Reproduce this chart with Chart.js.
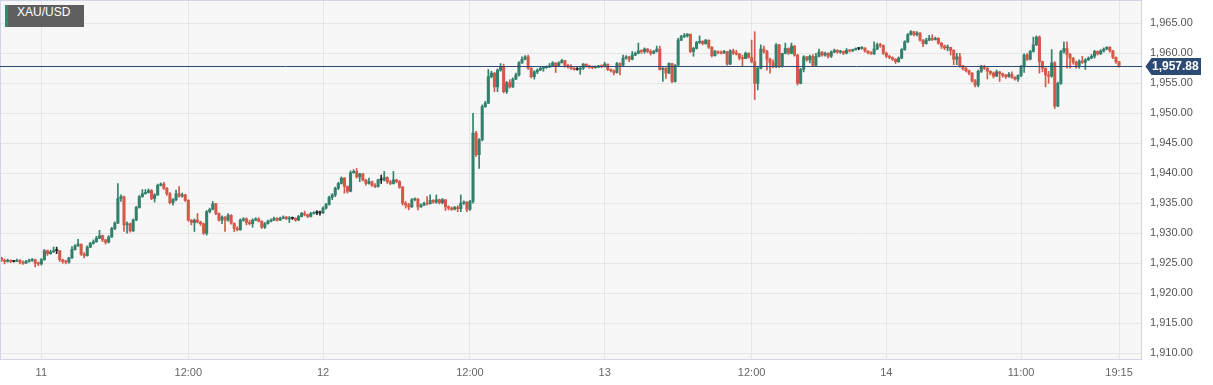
<!DOCTYPE html>
<html>
<head>
<meta charset="utf-8">
<title>XAU/USD</title>
<script src="https://cdn.jsdelivr.net/npm/chart.js@4.4.1/dist/chart.umd.min.js"></script>
<style>
  html, body { margin: 0; padding: 0; background: #fff; }
  #wrap { position: relative; width: 1213px; height: 385px; }
  #symbol {
    position: absolute; left: 5px; top: 5px; height: 22px; line-height: 22px;
    width: 67px; padding-left: 9px; background: #5f5f5f; border-left: 3px solid #2f8a6e;
    color: #fff; font: 12px "Liberation Sans", Arial, sans-serif;
  }
</style>
</head>
<body>
<div id="wrap">
  <canvas id="chart"></canvas>
  <div id="symbol">XAU/USD</div>
</div>
<script>
// 15 minute candles, open = previous close
const firstOpen = 1925.9;

const closes = [
  1925.5, 1925.3, 1925.5, 1925.3, 1925.3, 1925.5, 1925.2, 1925.0, 1925.3, 1925.5,
  1925.6, 1925.0, 1924.9, 1925.6, 1927.1, 1926.6, 1926.9, 1927.1, 1927.1, 1925.6,
  1925.3, 1925.2, 1925.9, 1927.3, 1927.9, 1928.2, 1926.5, 1926.3, 1927.7, 1928.3,
  1928.6, 1929.2, 1929.6, 1928.9, 1928.5, 1929.4, 1930.8, 1931.7, 1935.8, 1936.1,
  1931.4, 1931.6, 1930.4, 1932.2, 1934.3, 1936.1, 1936.6, 1936.8, 1937.1, 1935.8,
  1936.4, 1938.0, 1938.2, 1937.5, 1936.6, 1935.1, 1935.6, 1936.6, 1936.2, 1936.4,
  1935.5, 1932.2, 1931.8, 1932.2, 1931.9, 1931.6, 1930.0, 1933.6, 1934.0, 1934.9,
  1933.3, 1932.2, 1932.7, 1932.2, 1933.0, 1931.7, 1930.8, 1930.6, 1932.2, 1932.4,
  1931.8, 1931.6, 1932.2, 1932.4, 1932.0, 1931.0, 1931.6, 1932.0, 1932.2, 1932.5,
  1932.2, 1932.5, 1932.7, 1932.4, 1932.5, 1932.5, 1932.2, 1932.8, 1933.3, 1933.1,
  1932.8, 1933.3, 1933.4, 1933.4, 1933.4, 1934.2, 1934.8, 1936.0, 1936.4, 1937.5,
  1938.3, 1939.2, 1937.8, 1937.0, 1940.1, 1940.3, 1939.4, 1939.9, 1938.9, 1938.3,
  1938.6, 1938.0, 1937.8, 1938.9, 1938.9, 1939.3, 1938.6, 1938.3, 1938.9, 1938.6,
  1937.7, 1935.0, 1934.7, 1934.4, 1935.6, 1935.7, 1934.4, 1934.7, 1935.0, 1934.9,
  1935.5, 1935.2, 1935.6, 1935.1, 1935.6, 1934.4, 1934.2, 1934.0, 1934.3, 1934.1,
  1935.0, 1935.2, 1934.0, 1935.3, 1946.7, 1943.1, 1945.6, 1951.1, 1951.7, 1956.1,
  1956.7, 1954.4, 1957.2, 1957.8, 1953.6, 1955.1, 1954.4, 1955.7, 1956.4, 1958.4,
  1959.0, 1959.4, 1957.5, 1956.1, 1956.9, 1957.2, 1957.5, 1957.6, 1957.7, 1957.9,
  1958.4, 1957.9, 1958.4, 1958.8, 1957.9, 1957.8, 1957.5, 1957.3, 1957.3, 1957.5,
  1958.2, 1957.9, 1957.7, 1957.6, 1957.7, 1957.9, 1957.8, 1958.2, 1957.3, 1957.1,
  1956.8, 1958.3, 1958.0, 1959.2, 1959.4, 1959.0, 1959.7, 1960.0, 1960.4, 1960.3,
  1960.7, 1960.3, 1960.0, 1960.3, 1960.7, 1957.3, 1957.5, 1956.7, 1958.3, 1955.3,
  1958.0, 1962.2, 1962.8, 1962.9, 1963.2, 1960.3, 1960.8, 1961.8, 1962.0, 1961.6,
  1962.2, 1961.0, 1959.6, 1960.3, 1960.1, 1960.0, 1960.3, 1958.2, 1960.4, 1960.0,
  1959.9, 1959.2, 1959.1, 1960.0, 1959.3, 1958.6, 1955.0, 1957.5, 1960.7, 1960.3,
  1959.0, 1958.4, 1957.8, 1961.4, 1957.8, 1960.0, 1960.8, 1960.0, 1961.2, 1959.7,
  1955.0, 1957.3, 1959.4, 1958.9, 1959.5, 1958.0, 1959.5, 1960.2, 1959.7, 1960.0,
  1959.5, 1960.2, 1960.5, 1960.2, 1960.3, 1960.0, 1960.5, 1960.4, 1960.6, 1960.8,
  1960.8, 1960.9, 1960.4, 1960.1, 1959.9, 1960.7, 1961.4, 1961.3, 1960.0, 1959.5,
  1959.3, 1959.0, 1958.6, 1959.2, 1960.6, 1961.9, 1963.1, 1963.6, 1963.1, 1963.4,
  1962.2, 1961.6, 1962.2, 1962.5, 1962.3, 1962.5, 1961.7, 1961.2, 1960.9, 1961.0,
  1960.5, 1959.0, 1959.4, 1957.9, 1957.5, 1957.1, 1956.7, 1955.4, 1954.7, 1957.0,
  1957.8, 1957.5, 1957.0, 1956.7, 1956.2, 1956.9, 1956.6, 1956.3, 1956.1, 1956.5,
  1956.0, 1955.7, 1956.3, 1957.8, 1959.7, 1959.0, 1960.3, 1961.4, 1962.7, 1958.6,
  1957.5, 1956.4, 1956.2, 1958.4, 1951.2, 1955.0, 1960.3, 1960.8, 1959.8, 1959.2,
  1958.5, 1958.0, 1958.7, 1958.5, 1958.9, 1959.2, 1959.5, 1960.3, 1959.9, 1960.4,
  1960.7, 1961.0, 1960.4, 1959.3, 1958.6, 1957.88
];

const highs = [
  1926.0, 1925.7, 1925.7, 1925.6, 1925.5, 1925.7, 1925.6, 1925.4, 1925.5, 1925.7,
  1925.8, 1925.7, 1925.2, 1925.8, 1927.3, 1927.2, 1927.2, 1927.7, 1927.7, 1927.1,
  1925.7, 1925.5, 1926.0, 1927.8, 1928.1, 1929.0, 1928.2, 1926.8, 1927.9, 1928.5,
  1928.9, 1929.5, 1930.5, 1929.7, 1929.0, 1929.6, 1931.0, 1931.9, 1938.3, 1936.4,
  1936.2, 1931.9, 1931.7, 1932.4, 1934.5, 1936.3, 1937.3, 1937.3, 1937.4, 1937.3,
  1936.6, 1938.2, 1938.4, 1938.5, 1937.6, 1936.8, 1935.8, 1937.2, 1937.8, 1936.7,
  1936.5, 1935.6, 1932.3, 1932.4, 1933.3, 1932.0, 1931.7, 1933.8, 1934.2, 1935.3,
  1935.0, 1933.4, 1932.9, 1932.8, 1933.3, 1933.1, 1931.7, 1931.1, 1932.4, 1932.6,
  1932.6, 1932.2, 1932.4, 1932.6, 1932.6, 1932.1, 1931.8, 1932.2, 1932.4, 1932.7,
  1932.6, 1932.7, 1932.9, 1932.8, 1932.8, 1932.7, 1932.6, 1933.0, 1933.5, 1933.7,
  1933.2, 1933.5, 1933.6, 1933.8, 1933.7, 1934.4, 1935.0, 1936.2, 1936.6, 1937.7,
  1938.5, 1939.4, 1939.3, 1937.9, 1940.4, 1940.6, 1940.8, 1940.0, 1940.0, 1939.0,
  1939.2, 1938.7, 1938.3, 1939.0, 1939.7, 1940.3, 1939.4, 1938.8, 1940.3, 1939.0,
  1938.8, 1937.8, 1935.3, 1935.0, 1935.8, 1935.9, 1935.8, 1934.9, 1935.2, 1936.1,
  1936.4, 1935.6, 1936.4, 1935.7, 1935.8, 1935.1, 1934.6, 1934.4, 1934.5, 1934.6,
  1936.4, 1935.4, 1935.3, 1935.5, 1950.0, 1947.0, 1945.8, 1951.4, 1952.0, 1957.3,
  1957.0, 1956.8, 1957.4, 1958.3, 1958.2, 1955.3, 1955.6, 1955.9, 1956.7, 1958.6,
  1959.4, 1959.6, 1959.7, 1957.6, 1957.1, 1957.4, 1957.7, 1957.8, 1957.9, 1958.3,
  1958.6, 1958.4, 1958.6, 1959.0, 1958.8, 1958.2, 1958.1, 1957.6, 1957.6, 1957.7,
  1958.3, 1958.2, 1958.0, 1957.9, 1957.9, 1958.0, 1958.1, 1958.5, 1958.2, 1957.4,
  1957.2, 1958.5, 1958.4, 1959.7, 1959.6, 1959.5, 1960.3, 1960.2, 1961.7, 1960.6,
  1960.9, 1960.8, 1960.6, 1960.5, 1961.2, 1961.2, 1957.6, 1957.6, 1958.4, 1958.3,
  1958.1, 1962.5, 1963.0, 1963.3, 1963.3, 1963.0, 1961.0, 1962.0, 1962.9, 1962.1,
  1962.3, 1962.1, 1961.1, 1960.5, 1960.4, 1960.4, 1960.5, 1960.3, 1960.6, 1960.7,
  1960.5, 1960.0, 1959.7, 1960.2, 1960.1, 1962.2, 1963.6, 1957.7, 1961.4, 1961.2,
  1960.5, 1959.2, 1958.9, 1961.6, 1961.5, 1960.0, 1961.7, 1960.9, 1961.7, 1961.3,
  1959.8, 1957.5, 1959.6, 1959.5, 1959.7, 1959.8, 1960.0, 1960.7, 1960.3, 1960.2,
  1960.1, 1960.4, 1960.7, 1960.6, 1960.5, 1960.4, 1960.8, 1960.6, 1960.7, 1960.9,
  1960.9, 1961.1, 1960.9, 1960.4, 1960.3, 1961.9, 1961.7, 1961.7, 1961.4, 1960.2,
  1959.7, 1959.4, 1959.1, 1959.4, 1960.8, 1962.1, 1963.3, 1963.8, 1963.5, 1963.6,
  1963.4, 1962.3, 1962.5, 1963.0, 1963.1, 1962.7, 1962.6, 1961.8, 1961.4, 1961.4,
  1961.0, 1960.6, 1960.0, 1960.0, 1958.0, 1957.6, 1957.2, 1956.8, 1955.6, 1957.2,
  1958.0, 1958.0, 1957.6, 1957.1, 1956.9, 1957.2, 1957.0, 1956.7, 1956.5, 1956.8,
  1956.9, 1956.1, 1956.4, 1958.0, 1959.9, 1960.0, 1960.5, 1962.7, 1962.9, 1962.9,
  1958.7, 1957.6, 1957.0, 1960.6, 1958.6, 1955.2, 1960.5, 1961.9, 1961.9, 1960.0,
  1959.3, 1958.7, 1958.9, 1959.5, 1959.1, 1959.4, 1959.8, 1960.5, 1960.4, 1960.6,
  1960.9, 1961.1, 1961.1, 1960.5, 1959.4, 1958.6
];

const lows = [
  1925.3, 1924.9, 1925.2, 1925.1, 1925.2, 1925.3, 1924.9, 1924.8, 1925.0, 1925.2,
  1925.3, 1924.4, 1924.6, 1924.7, 1925.5, 1926.3, 1926.5, 1926.8, 1926.6, 1925.3,
  1925.0, 1924.9, 1925.0, 1925.8, 1927.2, 1927.8, 1926.3, 1925.9, 1926.2, 1927.6,
  1928.2, 1928.5, 1929.1, 1928.6, 1928.2, 1928.4, 1929.3, 1930.6, 1931.6, 1935.3,
  1930.3, 1930.0, 1930.2, 1930.3, 1932.1, 1934.2, 1936.0, 1936.5, 1936.7, 1935.6,
  1935.2, 1936.3, 1937.9, 1937.3, 1936.3, 1934.9, 1934.7, 1935.4, 1936.0, 1936.0,
  1935.3, 1932.0, 1931.4, 1930.3, 1931.7, 1931.3, 1929.8, 1929.7, 1933.4, 1933.9,
  1933.1, 1932.0, 1931.6, 1930.3, 1932.0, 1931.5, 1930.3, 1930.4, 1930.5, 1932.0,
  1931.4, 1931.4, 1931.0, 1932.1, 1931.9, 1930.8, 1930.8, 1931.5, 1931.9, 1932.1,
  1932.0, 1932.1, 1932.4, 1932.3, 1931.8, 1932.3, 1932.0, 1932.1, 1932.7, 1932.9,
  1932.6, 1932.7, 1933.2, 1933.1, 1933.0, 1933.3, 1934.0, 1934.7, 1935.6, 1936.1,
  1937.3, 1938.2, 1936.7, 1936.7, 1936.9, 1940.0, 1939.2, 1938.6, 1938.7, 1938.0,
  1938.2, 1937.8, 1937.6, 1937.7, 1938.3, 1938.7, 1938.3, 1938.1, 1938.2, 1938.4,
  1937.5, 1934.7, 1934.2, 1933.9, 1934.3, 1935.4, 1933.9, 1934.3, 1934.6, 1934.7,
  1934.9, 1935.0, 1935.0, 1934.9, 1934.9, 1933.8, 1933.9, 1933.8, 1933.9, 1933.6,
  1933.6, 1934.8, 1933.6, 1933.8, 1935.0, 1942.8, 1940.8, 1945.4, 1951.0, 1951.6,
  1955.9, 1953.6, 1953.6, 1957.0, 1953.4, 1953.3, 1954.2, 1954.3, 1955.6, 1956.2,
  1958.3, 1958.9, 1957.3, 1955.9, 1955.7, 1956.6, 1957.1, 1957.0, 1957.5, 1957.6,
  1957.8, 1956.8, 1957.8, 1958.4, 1957.7, 1957.5, 1957.3, 1957.2, 1957.2, 1956.5,
  1957.3, 1957.7, 1957.5, 1957.4, 1957.5, 1957.6, 1957.6, 1957.7, 1957.1, 1956.9,
  1956.4, 1956.7, 1956.4, 1957.9, 1959.0, 1958.6, 1958.9, 1959.6, 1959.9, 1960.0,
  1960.0, 1960.1, 1959.7, 1959.9, 1960.2, 1957.2, 1955.3, 1955.8, 1956.6, 1955.1,
  1955.2, 1958.0, 1962.1, 1962.6, 1962.7, 1960.1, 1959.5, 1960.7, 1961.6, 1961.4,
  1961.5, 1960.8, 1959.4, 1959.5, 1959.9, 1959.9, 1960.0, 1958.0, 1958.1, 1959.8,
  1959.7, 1958.9, 1957.9, 1959.1, 1959.2, 1958.4, 1952.3, 1953.9, 1957.4, 1960.0,
  1957.2, 1956.7, 1957.6, 1957.6, 1957.6, 1957.7, 1959.9, 1959.8, 1959.9, 1959.5,
  1954.7, 1954.9, 1956.9, 1958.7, 1958.4, 1957.8, 1957.9, 1959.4, 1959.5, 1959.5,
  1959.2, 1959.3, 1960.1, 1960.0, 1960.0, 1959.8, 1959.9, 1960.2, 1960.3, 1960.5,
  1960.6, 1960.7, 1960.2, 1959.9, 1959.8, 1959.8, 1960.6, 1961.0, 1959.8, 1959.3,
  1959.1, 1958.8, 1958.3, 1958.5, 1959.1, 1960.5, 1961.8, 1963.0, 1962.9, 1962.9,
  1962.0, 1961.1, 1961.5, 1962.1, 1962.1, 1962.2, 1961.5, 1960.8, 1960.6, 1960.4,
  1959.7, 1958.1, 1958.1, 1957.7, 1957.2, 1956.9, 1956.4, 1955.2, 1954.4, 1954.4,
  1956.8, 1957.3, 1955.7, 1956.4, 1955.9, 1956.1, 1955.3, 1956.0, 1955.8, 1956.0,
  1955.8, 1955.5, 1955.3, 1956.1, 1956.8, 1958.8, 1958.9, 1960.2, 1961.3, 1956.7,
  1956.9, 1954.4, 1955.0, 1956.0, 1950.8, 1951.1, 1954.8, 1960.0, 1957.5, 1957.5,
  1958.2, 1957.5, 1957.5, 1958.3, 1957.3, 1958.8, 1959.1, 1959.2, 1959.7, 1959.8,
  1960.2, 1960.6, 1960.2, 1959.1, 1958.3, 1957.7
];

// empty slots after the last candle
const padSlots = 7;
// bottom axis labels by candle index
const tickLabels = { 13: '11', 61: '12:00', 105: '12', 153: '12:00', 197: '13', 245: '12:00', 289: '14', 333: '11:00', 365: '19:15' };
const dayTicks = [13, 105, 197, 289];
const yTicks = [1910, 1915, 1920, 1925, 1930, 1935, 1940, 1945, 1950, 1955, 1960, 1965];
const lastPrice = 1957.88;

const upColor = '#33806c';
const downColor = '#d65848';
const flatColor = '#222222';
const lineColor = '#2d4a74';

const labels = [];
const bodies = [];
const wicks = [];
const colors = [];
for (let i = 0; i < closes.length + padSlots; i++) {
  labels.push(String(i));
  if (i >= closes.length) { bodies.push(null); wicks.push(null); colors.push(upColor); continue; }
  const o = i === 0 ? firstOpen : closes[i - 1];
  const c = closes[i];
  bodies.push([Math.min(o, c), Math.max(o, c)]);
  wicks.push([Math.min(lows[i], o, c), Math.max(highs[i], o, c)]);
  colors.push(Math.abs(c - o) < 0.05 ? flatColor : (c > o ? upColor : downColor));
}

const fmt = v => v.toLocaleString('en-US', { minimumFractionDigits: 2, maximumFractionDigits: 2 });

// chart area background + frame
const framePlugin = {
  id: 'frame',
  beforeDraw(chart) {
    const { ctx, chartArea: a } = chart;
    ctx.save();
    ctx.fillStyle = '#f7f7f7';
    ctx.fillRect(a.left, a.top, a.right - a.left, a.bottom - a.top);
    ctx.restore();
  },
  afterDraw(chart) {
    const { ctx, chartArea: a } = chart;
    ctx.save();
    ctx.strokeStyle = '#d0d5e8';
    ctx.lineWidth = 1;
    ctx.strokeRect(a.left + 0.5, a.top + 0.5, a.right - a.left - 1, a.bottom - a.top);
    ctx.restore();
  }
};

// current price line and tag on the right axis
const pricePlugin = {
  id: 'priceTag',
  afterDraw(chart) {
    const { ctx, chartArea: a } = chart;
    const y = Math.round(chart.scales.y.getPixelForValue(lastPrice)) + 0.5;
    ctx.save();
    ctx.strokeStyle = lineColor;
    ctx.lineWidth = 1;
    ctx.beginPath();
    ctx.moveTo(a.left, y);
    ctx.lineTo(a.right, y);
    ctx.stroke();

    const x0 = a.right + 3.5, x1 = a.right + 9.5, x2 = a.right + 59, h = 8.5;
    ctx.fillStyle = lineColor;
    ctx.beginPath();
    ctx.moveTo(x0, y);
    ctx.lineTo(x1, y - h);
    ctx.lineTo(x2, y - h);
    ctx.lineTo(x2, y + h);
    ctx.lineTo(x1, y + h);
    ctx.closePath();
    ctx.fill();
    ctx.fillStyle = '#fff';
    ctx.font = 'bold 12px "Liberation Sans", Arial, sans-serif';
    ctx.textBaseline = 'middle';
    ctx.textAlign = 'left';
    ctx.fillText(fmt(lastPrice), x1 + 0.5, y + 0.5);
    ctx.restore();
  }
};

Chart.defaults.font.family = '"Liberation Sans", Arial, sans-serif';

new Chart(document.getElementById('chart'), {
  type: 'bar',
  data: {
    labels: labels,
    datasets: [
      { label: 'range', data: wicks, backgroundColor: colors, barThickness: 1, grouped: false, order: 2 },
      { label: 'body', data: bodies, backgroundColor: colors, barThickness: 2.4, grouped: false, minBarLength: 1, order: 1 }
    ]
  },
  options: {
    responsive: true,
    maintainAspectRatio: false,
    animation: false,
    layout: { padding: 0 },
    plugins: { legend: { display: false }, tooltip: { enabled: false } },
    scales: {
      x: {
        type: 'category',
        offset: true,
        grid: { offset: false, color: '#e6e6e6', drawTicks: false },
        border: { display: false },
        ticks: {
          autoSkip: false,
          maxRotation: 0,
          padding: 7,
          callback: (v, i) => (tickLabels[i] !== undefined ? tickLabels[i] : null),
          font: ctx => ({ size: 11, weight: dayTicks.includes(ctx.index) ? 'bold' : 'normal' }),
          color: ctx => (dayTicks.includes(ctx.index) ? '#333' : '#666')
        },
        afterFit: s => { s.height = 26; s.paddingLeft = 0; s.paddingRight = 0; }
      },
      y: {
        position: 'right',
        min: 1909.05,
        max: 1968.88,
        grid: { color: '#e6e6e6', drawTicks: false },
        border: { display: false },
        afterBuildTicks: s => { s.ticks = yTicks.map(v => ({ value: v })); },
        ticks: { padding: 8, color: '#555', font: { size: 11 }, callback: v => fmt(v) },
        afterFit: s => { s.width = 71; s.paddingTop = 0; s.paddingBottom = 0; }
      }
    }
  },
  plugins: [framePlugin, pricePlugin]
});
</script>
</body>
</html>
